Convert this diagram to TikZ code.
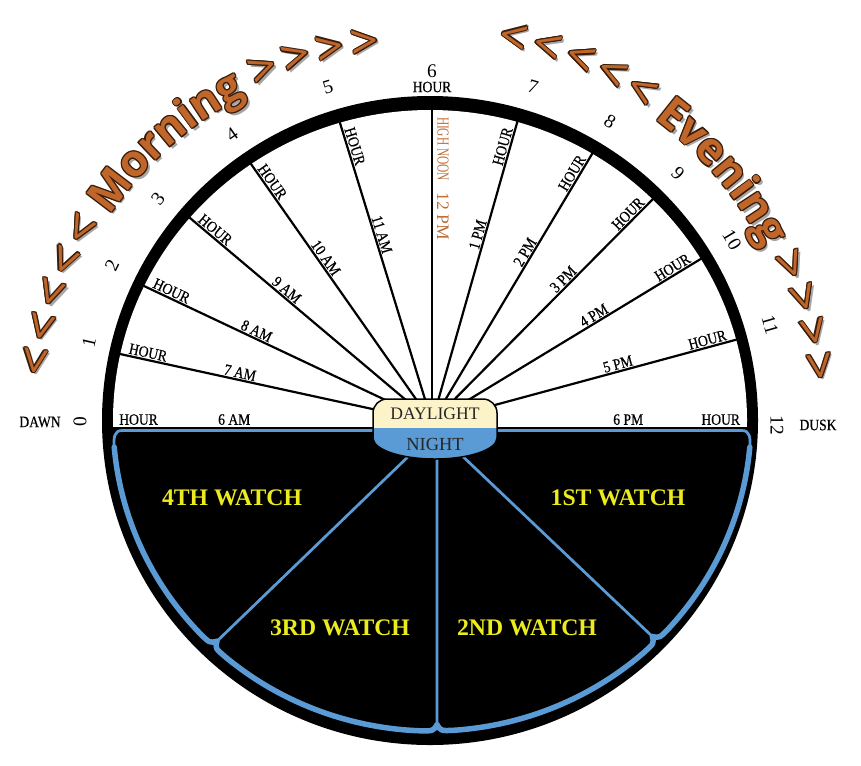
\documentclass[tikz,border=0pt]{standalone}
\usepackage{fontspec}
\setmainfont{Liberation Serif}
\newfontfamily\arcfont{Open Sans}
\newfontfamily\narrowserif{Liberation Serif}[FakeStretch=0.68]
\newfontfamily\lblfont{Liberation Serif}[FakeStretch=0.86,FakeBold=0.5]
\usetikzlibrary{calc,decorations.text}
\definecolor{nightblue}{RGB}{91,155,213}
\definecolor{dayc}{RGB}{253,243,200}
\definecolor{mbrown}{RGB}{192,102,42}
\definecolor{mdark}{RGB}{55,28,10}
\definecolor{noonbrown}{RGB}{190,110,55}
\definecolor{watchy}{RGB}{235,235,30}
\newcommand\wordfmt{\arcfont\bfseries\fontsize{25}{30}\selectfont}
\newcommand\chevfmt{\arcfont\fontsize{28}{32}\selectfont}
\newcommand\spfmt{\arcfont\fontsize{12}{14}\selectfont}
% #1 word, #2 radius, #3 start angle, #4 end angle, #5 centre, #6 colour, #7 shift
\newcommand\ArcLayer[7]{%
  \path[decorate,decoration={text along path,
      text={|\chevfmt|<|\spfmt| |\chevfmt|<|\spfmt| |\chevfmt|<|\spfmt| |\chevfmt|<|\spfmt| |\chevfmt|<|\wordfmt| #1 |\chevfmt|>|\spfmt| |\chevfmt|>|\spfmt| |\chevfmt|>|\spfmt| |\chevfmt|>},
      text align=center,text color=#6}]
    ($(#5)+(#7)$) ++(#3:#2) arc[start angle=#3,end angle=#4,radius=#2];
}
\newcommand\ArcWord[5]{%
  \ArcLayer{#1}{#2}{#3}{#4}{#5}{black!35}{2.5,2.5}
  \foreach \ofs in {{1.2,0},{-1.2,0},{0,1.2},{0,-1.2},{0.85,0.85},{-0.85,0.85},{0.85,-0.85},{-0.85,-0.85}}{%
    \ArcLayer{#1}{#2}{#3}{#4}{#5}{mdark}{\ofs}}
  \ArcLayer{#1}{#2}{#3}{#4}{#5}{mbrown}{0,0}
}
\begin{document}
\begin{tikzpicture}[x=0.02cm,y=-0.02cm,
  hourline/.style={draw=black,line width=0.044cm},
  bluethin/.style={draw=nightblue,line width=0.055cm},
  bluethick/.style={draw=nightblue,line width=0.11cm,line cap=round,line join=round},
  lbl/.style={font=\lblfont\fontsize{9}{10}\selectfont,inner sep=1pt,text=black},
  num/.style={font=\fontsize{11}{12}\selectfont,inner sep=0pt,text=black},
  watch/.style={font=\bfseries\fontsize{13.5}{15}\selectfont,text=watchy},
  captext/.style={inner sep=0pt,text=black!85},
  capline/.style={draw=black,line width=0.03cm}]
\fill[white] (0,0) rectangle (861,765);
\useasboundingbox (0,0) rectangle (861,765);
% key points
\coordinate (C) at (430,420.5);
\coordinate (Cm) at (410,418);
\coordinate (Cb) at (432,420);
\coordinate (hub) at (432,422);
\coordinate (hz) at (432,427);
\coordinate (h0) at (113,427);
\coordinate (h12) at (751,427);
\coordinate (h1) at (120,354);
\coordinate (h2) at (144,286);
\coordinate (h3) at (190,218);
\coordinate (h4) at (251,164);
\coordinate (h5) at (340,123);
\coordinate (h6) at (432,110);
\coordinate (h7) at (517,123);
\coordinate (h8) at (592,154);
\coordinate (h9) at (652,200);
\coordinate (h10) at (699,260);
\coordinate (h11) at (735,340);
% dial
\fill[black] (C) ellipse[x radius=328,y radius=324.5];
\begin{scope}
  \clip (0,0) rectangle (861,426);
  \fill[white] (C) ellipse[x radius=317,y radius=310.5];
\end{scope}
% hour lines
\foreach \i in {1,...,11} \draw[hourline] (hub) -- ($(hub)!1.03!(h\i)$);
% night structure
\coordinate (rl1) at (415,450);
\coordinate (rl2) at (437,450);
\coordinate (rl3) at (456,450);
\coordinate (J1) at ($(Cb)+(133.5:319 and 311)$);
\coordinate (J2) at ($(Cb)+(89.1:319 and 311)$);
\coordinate (J3) at ($(Cb)+(45.2:319 and 311)$);
\coordinate (J1i) at ($(J1)!0.022!(rl1)$);
\coordinate (J2i) at ($(J2)!0.022!(rl2)$);
\coordinate (J3i) at ($(J3)!0.022!(rl3)$);
\coordinate (a175) at ($(Cb)+(175:319 and 311)$);
\coordinate (a5) at ($(Cb)+(5:319 and 311)$);
\coordinate (capL) at (380,430.5);
\coordinate (capR) at (490,430.5);
\draw[bluethin] (capL) -- (122,430.5) .. controls (114,430.5) and (113.5,438) .. (a175);
\draw[bluethin] (capR) -- (742,430.5) .. controls (750,430.5) and (750.5,438) .. (a5);
\draw[bluethick] (a175) arc[start angle=175,end angle=136.5,x radius=319,y radius=311]
  .. controls ($(Cb)+(134.2:319 and 311)$) .. (J1i);
\draw[bluethick] (J1i) .. controls ($(Cb)+(132.8:319 and 311)$) .. ($(Cb)+(130.5:319 and 311)$)
  arc[start angle=130.5,end angle=92.1,x radius=319,y radius=311]
  .. controls ($(Cb)+(89.8:319 and 311)$) .. (J2i);
\draw[bluethick] (J2i) .. controls ($(Cb)+(88.4:319 and 311)$) .. ($(Cb)+(86.1:319 and 311)$)
  arc[start angle=86.1,end angle=48.2,x radius=319,y radius=311]
  .. controls ($(Cb)+(45.9:319 and 311)$) .. (J3i);
\draw[bluethick] (J3i) .. controls ($(Cb)+(44.5:319 and 311)$) .. ($(Cb)+(42.2:319 and 311)$)
  arc[start angle=42.2,end angle=5,x radius=319,y radius=311];
\draw[bluethin] (rl1) -- (J1i);
\draw[bluethin] (rl2) -- (J2i);
\draw[bluethin] (rl3) -- (J3i);
% centre cap
\fill[dayc] (373,428) -- (373,413) arc[start angle=180,end angle=270,radius=14] -- (483,399)
  arc[start angle=270,end angle=360,radius=14] -- (497,428) -- cycle;
\fill[nightblue] (373,428) -- (373,438) arc[start angle=180,end angle=0,x radius=62,y radius=21] -- (497,428) -- cycle;
\draw[capline] (373,438) -- (373,413) arc[start angle=180,end angle=270,radius=14] -- (483,399)
  arc[start angle=270,end angle=360,radius=14] -- (497,438)
  arc[start angle=0,end angle=180,x radius=62,y radius=21] -- cycle;
\node[captext,font=\fontsize{10}{11}\selectfont] (day) at (435,413.5) {DAYLIGHT};
\node[captext,font=\fontsize{10.5}{11}\selectfont] (night) at (435,444) {NIGHT};
% labels along hour lines
\foreach \i/\lab in {1/7 AM,2/8 AM,3/9 AM,4/10 AM,5/11 AM,7/1 PM,8/2 PM,9/3 PM,10/4 PM,11/5 PM}
  \path (hub) -- (h\i) node[lbl,pos=0.915,sloped,above] (hr\i) {HOUR} node[lbl,pos=0.62,sloped,above] (tm\i) {\lab};
\path (hz) -- (h0) node[lbl,pos=0.92,sloped,above] (hr0) {HOUR} node[lbl,pos=0.62,sloped,above] (tm0) {6 AM};
\path (hz) -- (h12) node[lbl,pos=0.905,sloped,above] (hr12) {HOUR} node[lbl,pos=0.615,sloped,above] (tm12) {6 PM};
\node[inner sep=0pt,rotate=-90,text=noonbrown,font=\narrowserif\fontsize{9.5}{10}\selectfont] (noon) at (443,149) {HIGH NOON};
\node[inner sep=0pt,rotate=-90,text=noonbrown,font=\fontsize{10}{11}\selectfont] (noonpm) at (443,216) {12 PM};
% hour numbers
\foreach \n/\x/\y/\r in {0/80/422/90,1/89/342/77,2/112/265/64,3/158/199/51,4/232/135/35,5/328/87/17,6/432/71/0,
  7/533/87/-17,8/610/122/-31,9/678/173/-45,10/732/240/-59,11/770/325/-74,12/777/425/-90}
  \node[num,rotate=\r] (n\n) at (\x,\y) {\n};
\node[lbl] (hr6) at (432,87) {HOUR};
\node[lbl] (dawn) at (40,422) {DAWN};
\node[lbl] (dusk) at (818,425) {DUSK};
% watches
\node[watch] (w4) at (232,498) {4TH WATCH};
\node[watch] (w3) at (340,628) {3RD WATCH};
\node[watch] (w1) at (618,498) {1ST WATCH};
\node[watch] (w2) at (527,628) {2ND WATCH};
% morning / evening
\ArcWord{Morning}{362}{-184.1}{-84.1}{Cm}
\ArcWord{Evening}{376}{-92.85}{7.15}{C}
\end{tikzpicture}
\end{document}
